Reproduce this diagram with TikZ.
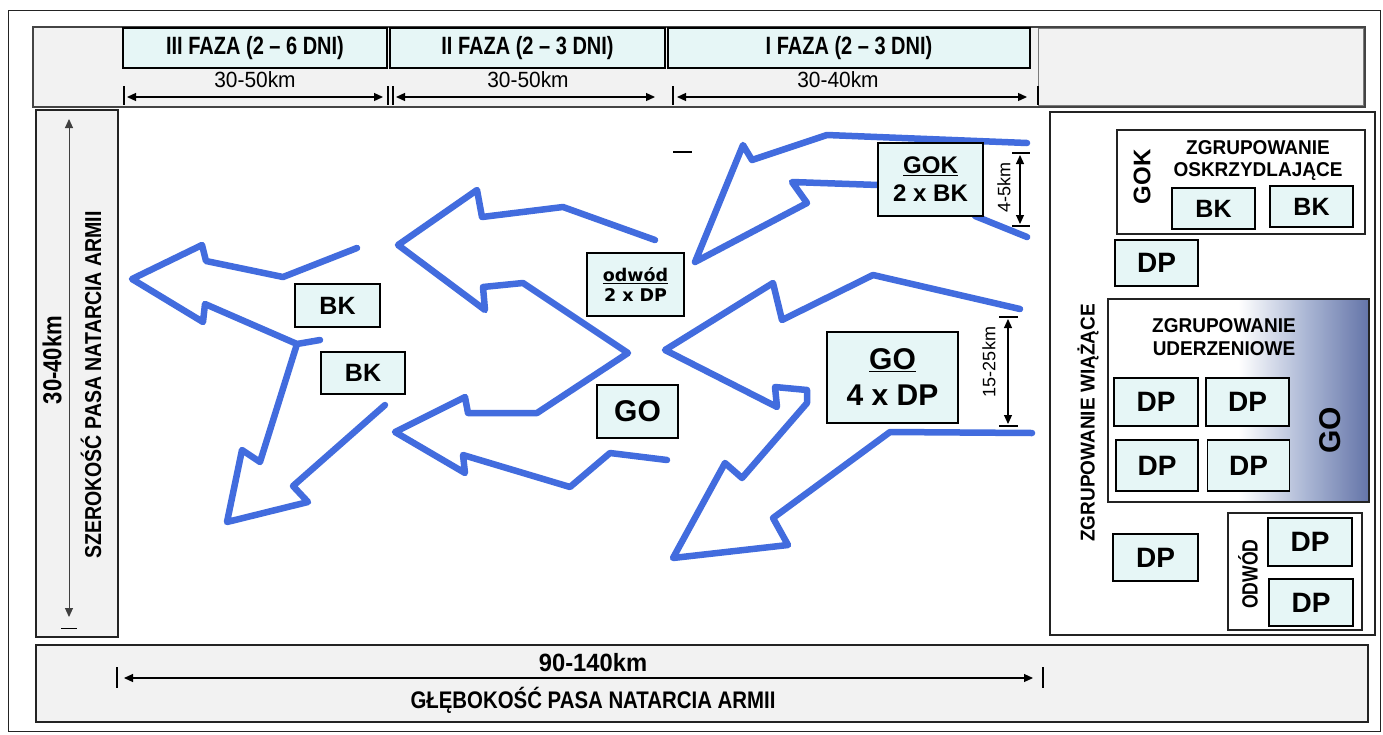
\documentclass[tikz,border=0pt]{standalone}
\usepackage{fontspec}
\setmainfont{Liberation Sans}
\newfontfamily\cnd[FakeStretch=0.85]{Liberation Sans}
\newfontfamily\cndb[FakeStretch=0.95]{Liberation Sans}
\newfontfamily\cndc[FakeStretch=0.8]{Liberation Sans}
\newfontfamily\dvs{DejaVu Sans}
\usetikzlibrary{arrows.meta}
\definecolor{boxfill}{RGB}{230,246,246}
\definecolor{panelfill}{RGB}{242,242,242}
\definecolor{arrowblue}{RGB}{66,108,222}
\definecolor{zublue}{RGB}{100,116,168}
\definecolor{zumid}{RGB}{170,182,212}
\definecolor{framec}{RGB}{35,35,35}
\pgfdeclarehorizontalshading{zushade}{100bp}{color(0bp)=(white); color(25bp)=(white); color(50bp)=(white); color(63bp)=(zumid); color(75bp)=(zublue); color(100bp)=(zublue)}
\newcommand\fsz[1]{\fontsize{#1}{#1}\selectfont}
\begin{document}
\begin{tikzpicture}[x=1pt,y=-1pt,
  unitbox/.style={draw=black, line width=1.6pt, fill=boxfill, inner sep=0pt, font=\bfseries\fsz{25}, align=center},
  dpbox/.style={unitbox, font=\bfseries\fsz{28}},
  phasebox/.style={draw=black, line width=1.4pt, fill=boxfill, inner sep=0pt, font=\cndc\bfseries\fsz{25}},
  blueline/.style={draw=arrowblue, line width=6.5pt, line join=round, line cap=round},
  dimline/.style={draw=black, line width=1.3pt, {Triangle[length=9pt,width=8pt]}-{Triangle[length=9pt,width=8pt]}},
  tickline/.style={draw=black, line width=1.3pt},
  dimlbl/.style={inner sep=0pt, font=\cndb\fsz{22}},
  grplbl/.style={inner sep=0pt, font=\cndb\bfseries\fsz{20}},
  txt/.style={inner sep=0pt}
]
\useasboundingbox (0,0) rectangle (1383,734);
\fill[white] (0,0) rectangle (1383,734);
% frames
\draw[framec, line width=1pt] (8,10) rectangle (1380,731);
\draw[framec!85, line width=1.2pt, fill=panelfill] (33,27) rectangle (1365,107);
\draw[framec!60, line width=1pt, fill=panelfill] (1038,28) rectangle (1363,105);
\draw[framec, line width=1.4pt, fill=panelfill] (36,110) rectangle (118,637);
\draw[framec, line width=1.4pt, fill=white] (1050,112) rectangle (1375,635);
\draw[framec, line width=1.4pt, fill=panelfill] (36,645) rectangle (1368,722);

% phase boxes
\node[phasebox, minimum width=264pt, minimum height=40pt] (ph3) at (255,48) {III FAZA (2 – 6 DNI)};
\node[phasebox, minimum width=275pt, minimum height=40pt] (ph2) at (527.5,48) {II FAZA (2 – 3 DNI)};
\node[phasebox, minimum width=362pt, minimum height=40pt] (ph1) at (849,48) {I FAZA (2 – 3 DNI)};

% top dimensions
\coordinate (d3a) at (127,97); \coordinate (d3b) at (383,97);
\coordinate (d2a) at (396,97); \coordinate (d2b) at (655,97);
\coordinate (d1a) at (677,97); \coordinate (d1b) at (1027,97);
\draw[dimline] (d3a) -- (d3b);
\draw[dimline] (d2a) -- (d2b);
\draw[dimline] (d1a) -- (d1b);
\foreach \x in {124,388,393,673,1038} \draw[tickline] (\x,86) -- (\x,105);
\node[dimlbl] (l3) at (255,80) {30-50km};
\node[dimlbl] (l2) at (528,80) {30-50km};
\node[dimlbl] (l1) at (838,80) {30-40km};

% left panel
\coordinate (va) at (69,119); \coordinate (vb) at (69,617);
\draw[dimline, draw=black!75, line width=1pt] (va) -- (vb);
\draw[tickline, line width=1pt] (61,628) -- (77,628);
\node[txt, rotate=90, font=\cnd\bfseries\fsz{26}] (w1) at (52,360) {30-40km};
\node[txt, rotate=90, font=\cnd\bfseries\fsz{23}] (w2) at (91,385) {SZEROKOŚĆ PASA NATARCIA ARMII};

% bottom band
\coordinate (ha) at (124,678); \coordinate (hb) at (1033,678);
\draw[dimline, line width=1.1pt] (ha) -- (hb);
\draw[tickline, line width=1.1pt] (117,667) -- (117,688);
\draw[tickline, line width=1.1pt] (1043,667) -- (1043,688);
\node[txt, font=\cndb\bfseries\fsz{25}] (dd1) at (593,663) {90-140km};
\node[txt, font=\cnd\bfseries\fsz{24}] (dd2) at (593,700) {GŁĘBOKOŚĆ PASA NATARCIA ARMII};

% blue arrows
\draw[blueline] (357,248) -- (283,277) -- (206,261) -- (202,245) -- (132,279) -- (203,322) -- (205,304) -- (297,344) -- (320,340);
\draw[blueline] (297,344) -- (260,462) -- (242,450) -- (227,522) -- (308,502) -- (293,486) -- (385,405);
\draw[blueline] (655,240) -- (563,207) -- (482,217) -- (477,190) -- (398,245) -- (485,310) -- (483,287) -- (523,283) -- (628,353)
  -- (537,413) -- (468,413) -- (465,397) -- (395,432) -- (465,473) -- (463,455) -- (570,487) -- (610,453) -- (667,460);
\draw[blueline] (1027,143) -- (827,135) -- (752,160) -- (743,145) -- (695,262) -- (807,203) -- (792,182) -- (878,185);
\draw[blueline] (975,216) -- (1027,237);
\draw[blueline] (1020,309) -- (873,275) -- (782,320) -- (773,283) -- (665,350) -- (777,407) -- (775,387) -- (807,390) -- (807,403)
  -- (742,478) -- (725,463) -- (673,558) -- (788,545) -- (773,518) -- (890,432) -- (1032,433);

% central boxes
\node[unitbox, minimum width=85pt, minimum height=43pt] (bk1) at (337.5,305.5) {BK};
\node[unitbox, minimum width=84pt, minimum height=42pt] (bk2) at (363,373) {BK};
\node[unitbox, minimum width=97pt, minimum height=63pt, font=\dvs\bfseries\fsz{17.5}] (odw) at (635.5,284.5) {\underline{odwód}\\[2pt]2 x DP};
\node[unitbox, minimum width=81pt, minimum height=53pt, font=\bfseries\fsz{30}] (go) at (637.5,411.5) {GO};
\node[unitbox, minimum width=105pt, minimum height=73pt, font=\bfseries\fsz{24}] (gok) at (930.5,179.5) {\underline{GOK}\\[4pt]2 x BK};
\node[unitbox, minimum width=131pt, minimum height=91pt, font=\bfseries\fsz{30}] (go4) at (892.5,377.5) {\underline{GO}\\[6pt]4 x DP};

% small dimensions in I phase
\coordinate (ka) at (1020,155); \coordinate (kb) at (1020,224);
\draw[dimline, line width=1.1pt] (ka) -- (kb);
\draw[tickline, line width=1.1pt] (1012,153) -- (1030,153);
\draw[tickline, line width=1.1pt] (1012,226) -- (1030,226);
\node[txt, rotate=90, font=\fsz{18}] (k1) at (1004,187) {4-5km};
\coordinate (ma) at (1008,319); \coordinate (mb) at (1008,424);
\draw[dimline, line width=1.1pt] (ma) -- (mb);
\draw[tickline, line width=1.1pt] (999,317) -- (1018,317);
\draw[tickline, line width=1.1pt] (999,426) -- (1018,426);
\node[txt, rotate=90, font=\fsz{18}] (m1) at (989,362) {15-25km};
\draw[tickline, line width=1.2pt] (673,152) -- (692,152);

% right panel
\draw[framec, line width=1.4pt, fill=white] (1117,130) rectangle (1365,234);
\node[txt, rotate=90, font=\bfseries\fsz{24}] (gokv) at (1142,177) {GOK};
\node[grplbl] (zo1) at (1258,148) {ZGRUPOWANIE};
\node[grplbl] (zo2) at (1258,172) {OSKRZYDLAJĄCE};
\node[unitbox, minimum width=83pt, minimum height=41pt] (rbk1) at (1213.5,208.5) {BK};
\node[unitbox, minimum width=83pt, minimum height=41pt] (rbk2) at (1311.5,206.5) {BK};
\node[dpbox, minimum width=83pt, minimum height=46pt] (rdp1) at (1156.5,263) {DP};
\shadedraw[shading=zushade, draw=framec, line width=1.4pt] (1108,299) rectangle (1369,502);
\node[grplbl] (zu1) at (1224,326) {ZGRUPOWANIE};
\node[grplbl] (zu2) at (1224,349) {UDERZENIOWE};
\node[dpbox, minimum width=84pt, minimum height=48pt] (zdp1) at (1156,402) {DP};
\node[dpbox, minimum width=83pt, minimum height=48pt] (zdp2) at (1247.5,402) {DP};
\node[dpbox, minimum width=82pt, minimum height=51pt] (zdp3) at (1157,465.5) {DP};
\node[dpbox, minimum width=82pt, minimum height=51pt] (zdp4) at (1248.5,465.5) {DP};
\node[txt, rotate=90, font=\bfseries\fsz{30}] (gov) at (1330,430) {GO};
\node[txt, rotate=90, font=\cndb\bfseries\fsz{20}] (wia) at (1088,423) {ZGRUPOWANIE WIĄŻĄCE};
\node[dpbox, minimum width=85pt, minimum height=47pt] (rdp2) at (1155.5,557.5) {DP};
\draw[framec, line width=1.4pt, fill=white] (1228,513) rectangle (1362,630);
\node[txt, rotate=90, font=\cndc\bfseries\fsz{22}] (odv) at (1248,574) {ODWÓD};
\node[dpbox, minimum width=84pt, minimum height=48pt] (odp1) at (1310,542) {DP};
\node[dpbox, minimum width=84pt, minimum height=47pt] (odp2) at (1311,602.5) {DP};
\end{tikzpicture}
\end{document}
